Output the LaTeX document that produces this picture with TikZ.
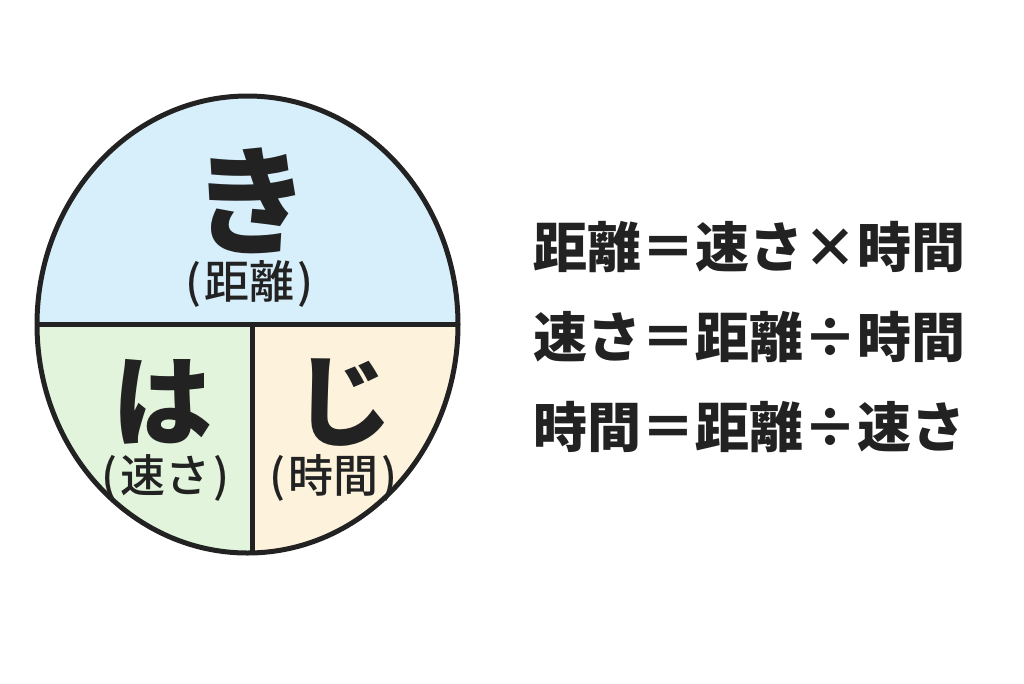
\documentclass[tikz,border=0pt]{standalone}
\usepackage{fontspec}
\newfontfamily\jpfont{Noto Sans CJK JP}
\newfontfamily\jpmedium{Noto Sans CJK JP Medium}
\definecolor{kiblue}{HTML}{D7EEFB}
\definecolor{hagreen}{HTML}{E2F5DC}
\definecolor{jiyellow}{HTML}{FDF3DD}
\definecolor{inkgray}{HTML}{222222}
\newcommand{\opbox}[1]{\makebox[1em]{#1}}
\newcommand{\paren}[1]{(\kern3pt#1\kern3pt)}
\tikzset{
  bigkana/.style={inner sep=0pt, text=inkgray, font=\jpfont\bfseries\fontsize{100}{100}\selectfont},
  kanalabel/.style={inner sep=0pt, text=inkgray, font=\jpmedium\fontsize{45}{45}\selectfont},
  formula/.style={inner sep=0pt, anchor=west, text=inkgray, font=\jpfont\bfseries\fontsize{54}{54}\selectfont}
}
\begin{document}
\begin{tikzpicture}[x=1pt, y=-1pt]
            \useasboundingbox (0,0) rectangle (1024,683);
            \begin{scope}
            \clip (247.5,324.5) ellipse [x radius=210.5, y radius=228.5];
            \fill[kiblue] (0,0) rectangle (500,324);
            \fill[hagreen] (0,324) rectangle (252,600);
            \fill[jiyellow] (252,324) rectangle (500,600);
            \end{scope}
            \coordinate (left) at (37,324);
            \coordinate (right) at (458,324);
            \coordinate (mid) at (252,324);
            \coordinate (bottom) at (252,553);
            \draw[inkgray, line width=5] (left) -- (right);
            \draw[inkgray, line width=5] (mid) -- (bottom);
            \draw[inkgray, line width=5] (247.5,324.5) ellipse [x radius=210.5, y radius=228.5];
            \node[bigkana, font=\jpfont\bfseries\fontsize{118}{118}\selectfont] (ki) at (251,201) {き};
            \node[kanalabel] (kilabel) at (250,284) {\paren{距離}};
            \node[bigkana] (ha) at (162,402) {は};
            \node[kanalabel] (halabel) at (166,478) {\paren{速さ}};
            \node[bigkana] (ji) at (343,403) {じ};
            \node[kanalabel] (jilabel) at (334,478) {\paren{時間}};
            \node[formula] (eqdist) at (533,247) {距離\opbox{＝}速さ\opbox{×}時間};
            \node[formula] (eqspeed) at (533,337) {速さ\opbox{＝}距離\opbox{÷}時間};
            \node[formula] (eqtime) at (533,427) {時間\opbox{＝}距離\opbox{÷}速さ};
\end{tikzpicture}
\end{document}
